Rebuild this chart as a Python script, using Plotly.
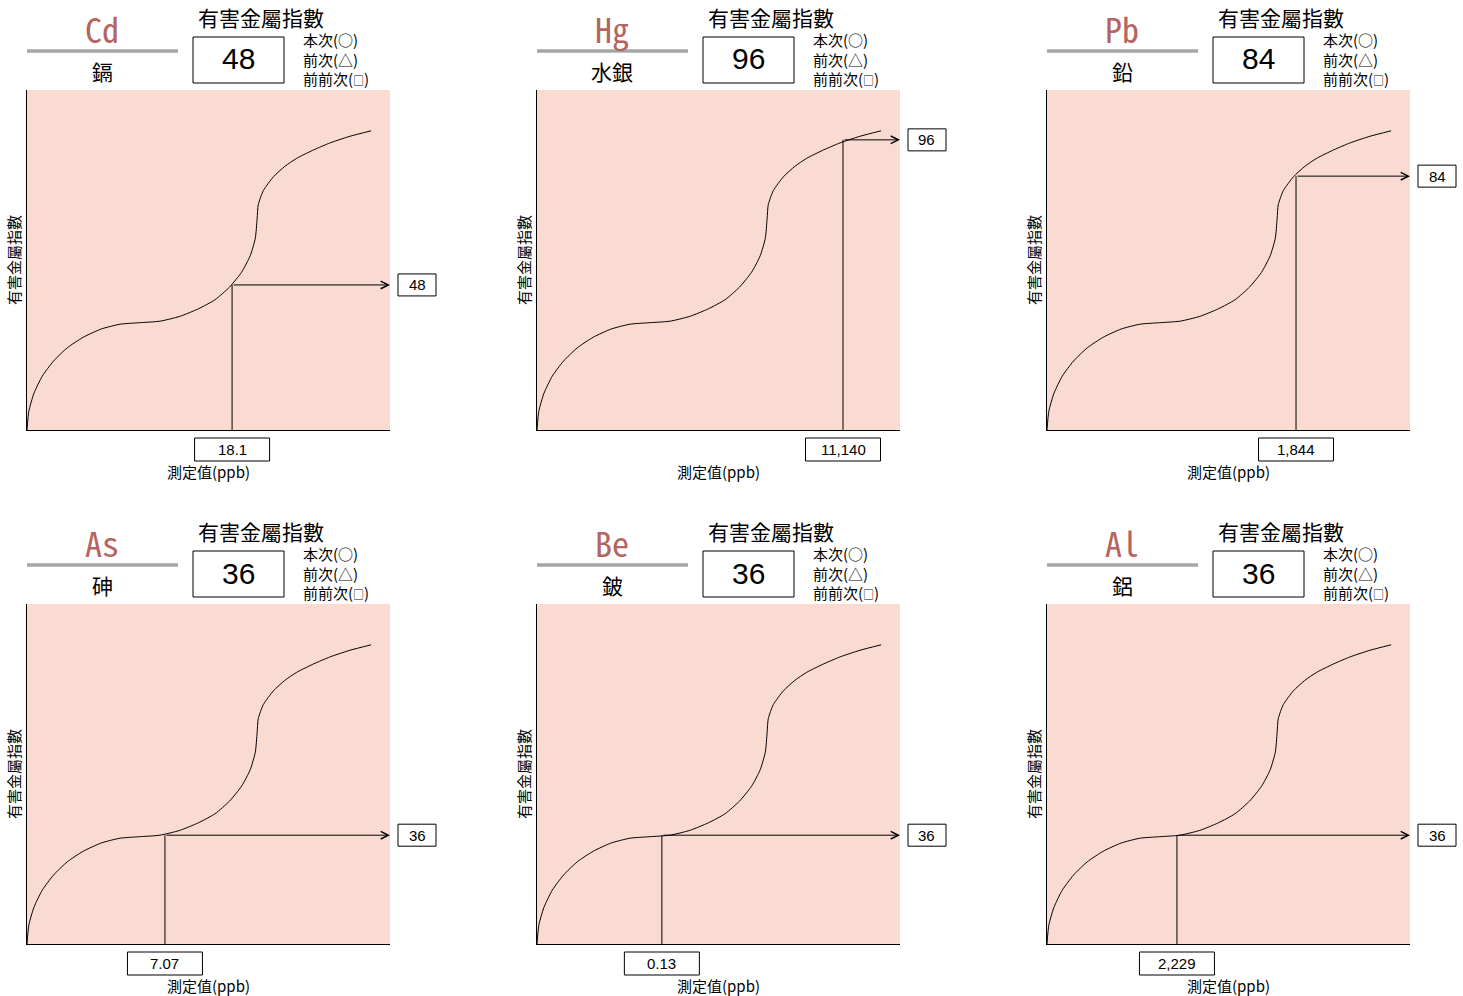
import plotly.graph_objects as go

# ---------------- data ----------------
elements = ["Cd", "Hg", "Pb", "As", "Be", "Al"]
names = ["鎘", "水銀", "鉛", "砷", "鈹", "鋁"]
index_values = [48, 96, 84, 36, 36, 36]
measured_labels = ["18.1", "11,140", "1,844", "7.07", "0.13", "2,229"]
# position of the measured value along the (unlabelled, normalised) x axis
measured_pos = [0.565, 0.843, 0.686, 0.380, 0.344, 0.358]

# index curve (same for all panels)
curve_x = [0.000, 0.005, 0.019, 0.042, 0.073, 0.111, 0.155, 0.204, 0.256, 0.310,
           0.366, 0.421, 0.472, 0.518, 0.558, 0.591, 0.615, 0.629, 0.634,
           0.637, 0.651, 0.679, 0.710, 0.743, 0.790, 0.835, 0.890, 0.948]
curve_y = [0.0, 6.2, 12.1, 17.8, 22.8, 27.2, 30.7, 33.4, 35.0, 35.5,
           36.0, 37.6, 40.1, 43.1, 47.3, 52.2, 57.7, 63.5, 70.0,
           74.5, 79.2, 83.8, 87.2, 89.9, 92.7, 95.0, 97.2, 99.0]

title_text = "有害金屬指數"
legend_lines = ["本次(○)", "前次(△)", "前前次(<span style='font-size:11px'>□</span>)"]
x_label = "測定值(ppb)"
y_label = "有害金屬指數"

# ---------------- layout constants ----------------
W, H = 1463, 996
col_x0 = [27, 537, 1047]
row_y0 = [90, 604]
PW, PH = 363, 340
Y_MAX = 112.5

CJK = "Noto Sans CJK JP"
LAT = "Liberation Sans, Arial, sans-serif"
SYM = "Noto Sans Mono CJK JP, DejaVu Sans Mono, monospace"
PINK = "#fadbd2"
SYM_COLOR = "#b4655f"


def px(x):
    return x / W


def py(y):
    return 1 - y / H


fig = go.Figure()
annotations = []
shapes = []
layout_axes = {}

for i in range(6):
    r, c = divmod(i, 3)
    x0 = col_x0[c]
    y0 = row_y0[r]
    n = "" if i == 0 else str(i + 1)
    xa, ya = "x" + n, "y" + n

    layout_axes["xaxis" + n] = dict(
        domain=[px(x0), px(x0 + PW)], range=[0, 1], anchor=ya,
        showgrid=False, zeroline=False, showticklabels=False, ticks="",
        showline=True, linecolor="black", linewidth=1, fixedrange=True)
    layout_axes["yaxis" + n] = dict(
        domain=[py(y0 + PH), py(y0)], range=[0, Y_MAX], anchor=xa,
        showgrid=False, zeroline=False, showticklabels=False, ticks="",
        showline=True, linecolor="black", linewidth=1, fixedrange=True)

    # curve
    fig.add_trace(go.Scatter(x=curve_x, y=curve_y, mode="lines",
                             line=dict(color="black", width=1, shape="spline", smoothing=0.6),
                             xaxis=xa, yaxis=ya, hoverinfo="skip", showlegend=False))
    # vertical line from measured value up to index value
    pos = measured_pos[i]
    val = index_values[i]
    fig.add_trace(go.Scatter(x=[pos, pos], y=[0, val], mode="lines",
                             line=dict(color="black", width=1),
                             xaxis=xa, yaxis=ya, hoverinfo="skip", showlegend=False))
    # horizontal arrow to the right edge
    annotations.append(dict(x=1.0, y=val, xref=xa, yref=ya, ax=pos, ay=val,
                            axref=xa, ayref=ya, text="", showarrow=True,
                            arrowhead=5, arrowsize=1.5, arrowwidth=1,
                            arrowcolor="black", standoff=0))

    # right value box
    shapes.append(dict(type="rect", xref="paper", yref=ya,
                       x0=px(x0 + PW + 8), x1=px(x0 + PW + 46),
                       ysizemode="pixel", yanchor=val, y0=-11, y1=11,
                       line=dict(color="black", width=1), fillcolor="white", layer="above"))
    annotations.append(dict(x=px(x0 + PW + 27), y=val, xref="paper", yref=ya,
                            text=str(val), showarrow=False, xanchor="center", yanchor="middle",
                            font=dict(family=LAT, size=15, color="black")))

    # bottom measured value box
    shapes.append(dict(type="rect", xref=xa, yref="paper",
                       xsizemode="pixel", xanchor=pos, x0=-37.5, x1=37.5,
                       y0=py(y0 + PH + 31), y1=py(y0 + PH + 8),
                       line=dict(color="black", width=1), fillcolor="white", layer="above"))
    annotations.append(dict(x=pos, y=py(y0 + PH + 19.5), xref=xa, yref="paper",
                            text=measured_labels[i], showarrow=False,
                            xanchor="center", yanchor="middle",
                            font=dict(family=LAT, size=15, color="black")))

    # x label
    annotations.append(dict(x=px(x0 + 181), y=py(y0 + 381), xref="paper", yref="paper",
                            text=x_label, showarrow=False, xanchor="center", yanchor="middle",
                            font=dict(family=CJK, size=15, color="black")))
    # y label
    annotations.append(dict(x=px(x0 - 14), y=py(y0 + 170), xref="paper", yref="paper",
                            text=y_label, showarrow=False, textangle=-90,
                            xanchor="center", yanchor="middle",
                            font=dict(family=CJK, size=15, color="black")))

    # header: element symbol, line, name
    annotations.append(dict(x=px(x0 + 75), y=py(y0 - 62), xref="paper", yref="paper",
                            text=elements[i], showarrow=False, xanchor="center", yanchor="middle",
                            font=dict(family=SYM, size=34, color=SYM_COLOR)))
    shapes.append(dict(type="line", xref="paper", yref="paper",
                       x0=px(x0), x1=px(x0 + 151), y0=py(y0 - 39), y1=py(y0 - 39),
                       line=dict(color="#a6a6a6", width=3.5)))
    annotations.append(dict(x=px(x0 + 75), y=py(y0 - 19), xref="paper", yref="paper",
                            text=names[i], showarrow=False, xanchor="center", yanchor="middle",
                            font=dict(family=CJK, size=21, color="black")))

    # header: title, index box, legend lines
    annotations.append(dict(x=px(x0 + 234), y=py(y0 - 73), xref="paper", yref="paper",
                            text=title_text, showarrow=False, xanchor="center", yanchor="middle",
                            font=dict(family=CJK, size=21, color="black")))
    shapes.append(dict(type="rect", xref="paper", yref="paper",
                       x0=px(x0 + 166), x1=px(x0 + 257), y0=py(y0 - 7), y1=py(y0 - 53),
                       line=dict(color="black", width=1), fillcolor="white"))
    annotations.append(dict(x=px(x0 + 211.5), y=py(y0 - 31), xref="paper", yref="paper",
                            text=str(val), showarrow=False, xanchor="center", yanchor="middle",
                            font=dict(family=LAT, size=30, color="black")))
    annotations.append(dict(x=px(x0 + 275), y=py(y0 - 31), xref="paper", yref="paper",
                            text="<br>".join(legend_lines), showarrow=False, borderpad=0,
                            xanchor="left", yanchor="middle", align="left",
                            font=dict(family=CJK, size=15, color="black")))

fig.update_layout(
    width=W, height=H, autosize=False,
    margin=dict(l=0, r=0, t=0, b=0),
    paper_bgcolor="white", plot_bgcolor=PINK,
    showlegend=False,
    annotations=annotations, shapes=shapes,
    **layout_axes,
)

fig.write_html("out.html", config={"displayModeBar": False},
               post_script="document.body.style.margin='0';document.body.style.overflow='hidden';")
